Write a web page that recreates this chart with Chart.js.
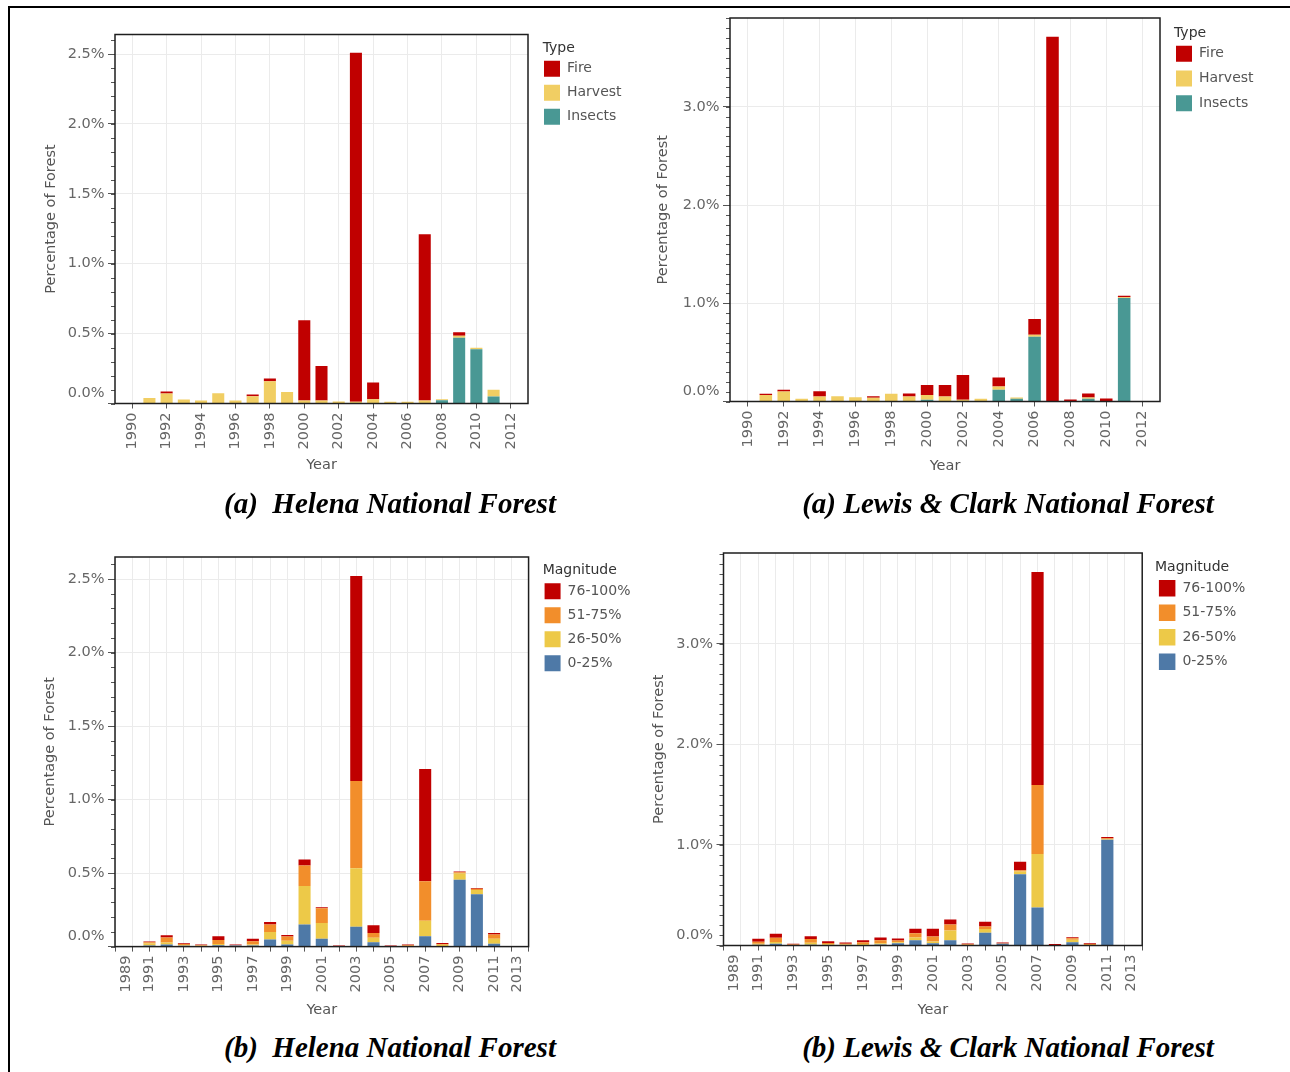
<!DOCTYPE html>
<html><head><meta charset="utf-8">
<script src="https://cdn.jsdelivr.net/npm/chart.js@4.4.1/dist/chart.umd.min.js"></script>
<style>
html,body{margin:0;padding:0;background:#fff;}
body{width:1290px;height:1072px;position:relative;overflow:hidden;}
canvas{position:absolute;}
.frame{position:absolute;left:8px;top:6px;width:1400px;height:1200px;border-left:2px solid #000;border-top:2px solid #000;}
.cap{position:absolute;width:600px;text-align:center;font-family:'Liberation Serif','Times New Roman',serif;font-weight:bold;font-style:italic;font-size:29px;line-height:34px;color:#000;white-space:pre;}
</style></head><body>
<div class="frame"></div>
<canvas id="c1"></canvas>
<canvas id="c2"></canvas>
<canvas id="c3"></canvas>
<canvas id="c4"></canvas>
<div class="cap" style="left:90px;top:486px">(a)  Helena National Forest</div>
<div class="cap" style="left:708px;top:486px">(a) Lewis &amp; Clark National Forest</div>
<div class="cap" style="left:90px;top:1030px">(b)  Helena National Forest</div>
<div class="cap" style="left:708px;top:1030px">(b) Lewis &amp; Clark National Forest</div>
<script>
// ---------------- DATA ----------------
const years = [1991,1992,1993,1994,1995,1996,1997,1998,1999,2000,2001,2002,2003,2004,2005,2006,2007,2008,2009,2010,2011];

// Helena - by type (% of forest)
const helenaInsects = [0,0,0,0,0,0,0,0,0,0,0,0,0,0,0,0,0,0.024,0.471,0.388,0.050];
const helenaHarvest = [0.040,0.071,0.029,0.021,0.074,0.021,0.052,0.160,0.083,0.021,0.021,0.014,0.012,0.031,0.012,0.012,0.021,0.007,0.014,0.010,0.048];
const helenaFire    = [0,0.015,0,0,0,0,0.012,0.019,0,0.574,0.248,0,2.498,0.119,0,0,1.190,0,0.024,0,0];

// Lewis & Clark - by type
const lcInsects = [0,0,0,0,0,0,0,0,0,0.017,0,0,0,0.119,0.027,0.660,0,0,0.027,0,1.054];
const lcHarvest = [0.065,0.102,0.027,0.051,0.054,0.044,0.037,0.078,0.051,0.048,0.051,0.017,0.027,0.034,0.014,0.020,0,0,0.014,0,0.008];
const lcFire    = [0.014,0.017,0,0.054,0,0,0.017,0,0.031,0.102,0.116,0.252,0,0.092,0,0.160,3.715,0.020,0.041,0.031,0.015];

// Helena - by magnitude
const helenaMag0  = [0.007,0.014,0.005,0.003,0.009,0.007,0.007,0.048,0.014,0.150,0.054,0.001,0.135,0.029,0.001,0.002,0.070,0.004,0.454,0.356,0.020];
const helenaMag26 = [0.014,0.014,0.005,0.003,0.009,0.001,0.007,0.052,0.025,0.263,0.107,0.001,0.398,0.032,0.001,0.002,0.106,0.008,0.043,0.029,0.034];
const helenaMag51 = [0.009,0.034,0.008,0.004,0.027,0.002,0.023,0.050,0.029,0.138,0.100,0.001,0.594,0.032,0.001,0.005,0.268,0.006,0.009,0.009,0.029];
const helenaMag76 = [0.005,0.016,0.005,0.004,0.025,0.004,0.016,0.018,0.011,0.041,0.007,0.005,1.394,0.052,0.005,0.005,0.764,0.007,0.005,0.005,0.009];

// Lewis & Clark - by magnitude
const lcMag0  = [0.007,0.017,0.002,0.007,0.003,0.003,0.003,0.010,0.023,0.053,0.023,0.053,0.002,0.126,0.017,0.708,0.379,0.002,0.033,0.002,1.053];
const lcMag26 = [0.010,0.017,0.002,0.020,0.010,0.007,0.013,0.013,0.010,0.027,0.017,0.096,0.002,0.037,0.002,0.027,0.531,0.002,0.023,0.003,0.003];
const lcMag51 = [0.020,0.043,0.006,0.037,0.013,0.007,0.017,0.030,0.017,0.043,0.050,0.060,0.008,0.027,0.002,0.013,0.687,0.002,0.017,0.009,0.010];
const lcMag76 = [0.030,0.040,0.007,0.027,0.017,0.013,0.020,0.027,0.020,0.043,0.076,0.050,0.008,0.047,0.010,0.086,2.119,0.008,0.010,0.008,0.013];

// Series names
const typeNames = ['Insects','Harvest','Fire'];
const magNames = ['0-25%','26-50%','51-75%','76-100%'];

// Tick values / labels
const topYearTicks = [1990,1992,1994,1996,1998,2000,2002,2004,2006,2008,2010,2012];
const bottomYearTicks = [1989,1990,1991,1992,1993,1994,1995,1996,1997,1998,1999,2000,2001,2002,2003,2004,2005,2006,2007,2008,2009,2010,2011,2012,2013];
const bottomYearLabels = [1989,1991,1993,1995,1997,1999,2001,2003,2005,2007,2009,2011,2013];
const helenaYTicks = [0,0.5,1.0,1.5,2.0,2.5];
const lcYTicks = [0,1.0,2.0,3.0];

// ---------------- STYLE ----------------
const COL = {
  Fire:'#C00000', Harvest:'#F1CE63', Insects:'#499894',
  '76-100%':'#C00000', '51-75%':'#F28E2B', '26-50%':'#EDC948', '0-25%':'#4E79A7'
};
const FF = "'DejaVu Sans', Verdana, sans-serif";
Chart.defaults.font.family = FF;
Chart.defaults.color = '#666';
const FS = 14.5, LH = FS*1.2;
const LFS = 14;

function measure(text, size){
  const c = document.createElement('canvas').getContext('2d');
  c.font = 'normal ' + size + 'px ' + FF;
  return c.measureText(text).width;
}

const framePlugin = {
  id: 'framePlugin',
  beforeDraw(chart, args, o){
    const xs = chart.scales.x, ys = chart.scales.y;
    xs.getLabelItems().forEach(it=>{
      if (o.firstLabel && it.label === o.firstLabel) it.options.translation[0] += o.edgeShift;
      if (o.lastLabel && it.label === o.lastLabel) it.options.translation[0] -= o.edgeShift;
    });
    ys.getLabelItems().forEach(it=>{
      if (it.label === '0.0%') it.options.translation[1] -= o.zeroShift;
    });
  },
  afterDraw(chart, args, o){
    const ctx = chart.ctx, a = chart.chartArea, ys = chart.scales.y;
    ctx.save();
    ctx.strokeStyle = '#555'; ctx.lineWidth = 1;
    const n = Math.floor(o.yMax*10 + 1e-6);
    for (let i=0;i<=n;i++){
      const py = Math.round(ys.getPixelForValue(i/10)) + 0.5;
      ctx.beginPath(); ctx.moveTo(a.left-4, py); ctx.lineTo(a.left, py); ctx.stroke();
    }
    ctx.strokeStyle = '#1e1e1e'; ctx.lineWidth = 1.5;
    ctx.strokeRect(a.left, a.top, a.right-a.left, a.bottom-a.top);
    // legend heading
    ctx.fillStyle = '#333';
    ctx.font = 'normal ' + LFS + 'px ' + FF;
    ctx.textAlign = 'left'; ctx.textBaseline = 'middle';
    ctx.fillText(o.legendTitle, o.titleX, o.titleY);
    ctx.restore();
  }
};

function series(vals){ return years.map((yr,i)=>({x:yr, y:vals[i]})); }

function build(id, g, names, valueArrays, yTicks, xTicks, xLabels, legendTitle, edge){
  const cv = document.getElementById(id);
  cv.width = g.cw; cv.height = g.ch;
  cv.style.left = g.cx+'px'; cv.style.top = g.cy+'px';
  const yW = g.L - g.cx;
  const xH = g.xTitleY - g.B + LH/2;
  const padTop = g.T - g.cy;
  const padBottom = g.ch - (g.B - g.cy) - xH;
  const legendLeft = g.boxLeft - g.lp;
  const dummyW = legendLeft - g.R;
  const itemW = Math.max(...names.map(n => g.box + LFS/2 + measure(n, LFS)));
  const legendW = g.lp + itemW + 10;
  const padRight = g.cw - (g.R - g.cx) - dummyW - legendW;
  const pt = g.legTitleY - g.T - LFS/2;
  const pb = (g.boxTop - g.T - g.lp) - LFS*1.2 - pt;
  const datasets = names.map((nm,i)=>({
    label: nm, data: series(valueArrays[i]), backgroundColor: COL[nm], borderWidth: 0
  }));
  return new Chart(cv, {
    type: 'bar',
    data: { datasets },
    plugins: [framePlugin],
    options: {
      responsive: false, animation: false, devicePixelRatio: 1,
      layout: { padding: { left: 0, top: padTop, right: padRight, bottom: padBottom } },
      datasets: { bar: { barPercentage: 0.7, categoryPercentage: 1.0 } },
      plugins: {
        tooltip: { enabled: false },
        legend: {
          position: 'right', align: 'start', reverse: true,
          labels: { boxWidth: g.box, boxHeight: g.box, padding: g.lp, color: '#555', font: { size: LFS } },
          // heading space is reserved here; the heading text itself is painted by framePlugin
          title: { display: true, text: legendTitle, position: 'start', color: 'rgba(0,0,0,0)', font: { size: LFS },
                   padding: { top: pt, bottom: pb } }
        },
        framePlugin: { yMax: g.yMax, zeroShift: 10, firstLabel: edge ? '1989' : null, lastLabel: edge ? '2013' : null, edgeShift: 11,
                       legendTitle, titleX: g.legTitleX - g.cx, titleY: g.legTitleY - g.cy }
      },
      scales: {
        x: {
          type: 'linear', position: 'bottom', min: 1989, max: 2013, offset: false, stacked: true,
          afterBuildTicks: s => { s.ticks = xTicks.map(v=>({value:v})); },
          afterFit: s => { s.height = xH; },
          grid: { color: '#ebebeb', tickColor: '#555', tickLength: 5, offset: false },
          border: { display: false },
          ticks: { autoSkip: false, maxRotation: 90, minRotation: 90, padding: 4, color: '#666', font: { size: FS },
                   callback: v => xLabels.includes(v) ? String(v) : '' },
          title: { display: true, text: 'Year', color: '#555', font: { size: FS }, padding: { top: 0, bottom: 0 } }
        },
        y: {
          type: 'linear', position: 'left', min: 0, max: g.yMax, stacked: true,
          afterBuildTicks: s => { s.ticks = yTicks.map(v=>({value:v})); },
          afterFit: s => { s.width = yW; },
          grid: { color: '#ebebeb', tickColor: '#555', tickLength: 7 },
          border: { display: false },
          ticks: { padding: 3.5, color: '#666', font: { size: FS }, callback: v => Number(v).toFixed(1) + '%' },
          title: { display: true, text: 'Percentage of Forest', color: '#555', font: { size: FS },
                   padding: { top: g.yTitleX - g.cx - LH/2, bottom: 0 } }
        },
        pad: {
          type: 'linear', position: 'right', display: true,
          grid: { display: false }, border: { display: false }, ticks: { display: false },
          afterFit: s => { s.width = dummyW; }
        }
      }
    }
  });
}

const gTL = {cx:20, cy:20, cw:620, ch:470, L:115, R:528, T:34.5, B:403.5, yMax:2.64, yTitleX:51, xTitleY:465.5,
             boxLeft:544, boxTop:60.7, legTitleX:542.7, legTitleY:48, lp:8, box:16};
const gTR = {cx:640, cy:5, cw:650, ch:480, L:730, R:1160, T:18, B:401.5, yMax:3.905, yTitleX:663, xTitleY:466,
             boxLeft:1176, boxTop:45.7, legTitleX:1174, legTitleY:33.3, lp:8.8, box:16};
const gBL = {cx:20, cy:540, cw:620, ch:490, L:115, R:528, T:557, B:946.6, yMax:2.65, yTitleX:50.5, xTitleY:1010,
             boxLeft:544, boxTop:583.3, legTitleX:542.7, legTitleY:570.3, lp:8, box:16};
const gBR = {cx:640, cy:540, cw:650, ch:490, L:723.5, R:1140, T:553, B:945.5, yMax:3.905, yTitleX:659, xTitleY:1010,
             boxLeft:1156.7, boxTop:580, legTitleX:1155, legTitleY:567, lp:8, box:16.5};

build('c1', gTL, typeNames, [helenaInsects, helenaHarvest, helenaFire], helenaYTicks, topYearTicks, topYearTicks, 'Type', false);
build('c2', gTR, typeNames, [lcInsects, lcHarvest, lcFire], lcYTicks, topYearTicks, topYearTicks, 'Type', false);
build('c3', gBL, magNames, [helenaMag0, helenaMag26, helenaMag51, helenaMag76], helenaYTicks, bottomYearTicks, bottomYearLabels, 'Magnitude', true);
build('c4', gBR, magNames, [lcMag0, lcMag26, lcMag51, lcMag76], lcYTicks, bottomYearTicks, bottomYearLabels, 'Magnitude', true);
</script>
</body></html>
